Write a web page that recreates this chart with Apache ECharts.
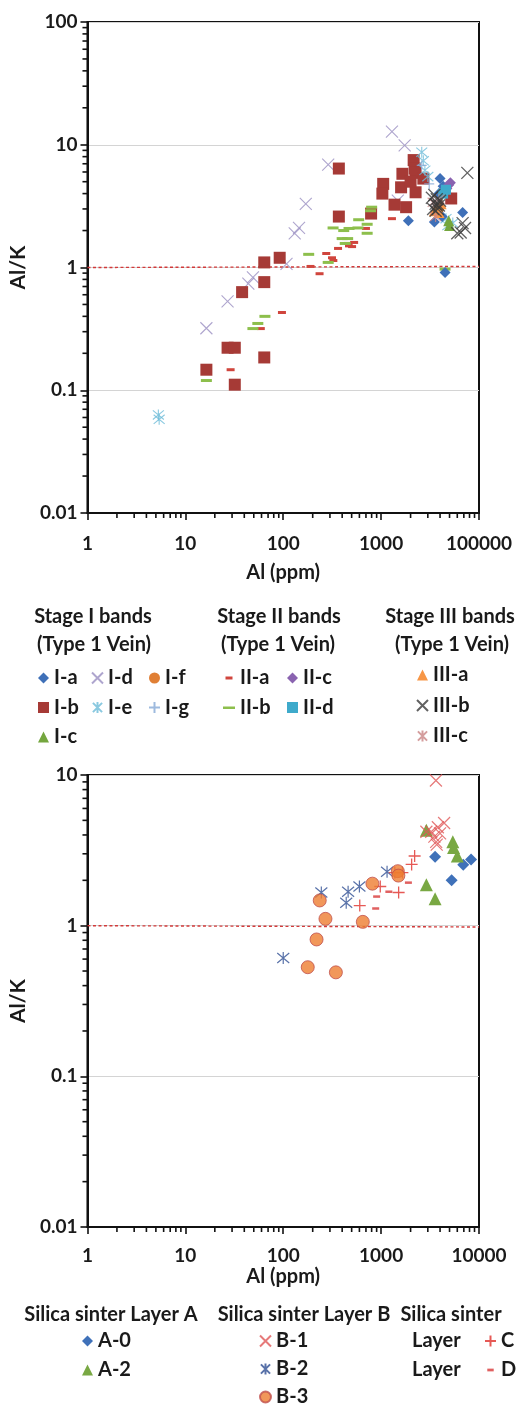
<!DOCTYPE html>
<html>
<head>
<meta charset="utf-8">
<script src="https://cdn.jsdelivr.net/npm/echarts@6/dist/echarts.min.js"></script>
<style>
  html, body { margin: 0; padding: 0; background: #fff; }
  #chart { width: 531px; height: 1417px; }
</style>
</head>
<body>
<div id="chart"></div>
<script>
// ---- Type 1 vein bands: [Al (ppm), Al/K] ----
const Ia   = [[1900,2.4],[3500,2.35],[4000,5.3],[4300,4.6],[3900,4.0],[4200,2.6],[6800,2.8],[4500,0.91]];
const Ib   = [[16.4,0.147],[27,0.222],[32,0.222],[32,0.111],[64,0.185],[38,0.63],[64,0.76],[64,1.1],[92,1.2],
              [370,6.4],[370,2.6],[790,2.75],[1050,4.8],[1030,4.0],[1370,3.25],[1800,3.1],[1600,4.5],[1650,5.8],
              [2150,7.5],[2200,6.4],[2250,5.9],[2250,4.1],[2700,5.3],[2000,5.0],[5200,3.65]];
const Ic   = [[4900,2.4],[5000,2.2]];
const Id   = [[16.4,0.32],[27,0.53],[44,0.74],[49,0.83],[108,1.07],[131,1.9],[145,2.1],[170,3.3],[288,6.9],
              [1290,12.8],[1740,9.9],[1480,3.5]];
const Ie   = [[5.3,0.063],[5.4,0.058],[2600,8.7],[2700,7.4],[2800,6.2],[3000,5.5],[5400,2.3],[4800,2.2],[4600,2.5]];
const If_  = [[3900,3.0]];
const Ig   = [[2600,6.8],[3100,4.8]];
const IIa  = [[29,0.147],[59,0.318],[97,0.43],[190,1.02],[235,0.89],[275,1.3],[315,1.2],[325,1.14],[363,1.43],
              [460,1.57],[470,1.5],[505,1.48],[530,1.6],[700,2.08],[1290,2.5]];
const IIb  = [[16.4,0.12],[49,0.318],[55,0.35],[65,0.4],[182,1.28],[288,1.1],[323,2.1],[400,1.72],[415,2.0],
              [430,1.57],[470,2.08],[455,1.72],[590,2.45],[580,2.1],[720,2.25],[720,1.9],[800,3.1],[780,2.9],[4500,0.97]];
const IIc  = [[4900,4.7],[4700,4.4],[5100,4.9]];
const IId  = [[4600,4.3],[4300,4.0]];
const IIIa = [[3700,3.1],[3500,2.9],[3900,2.8],[4100,3.3]];
const IIIb = [[3300,3.7],[3600,3.3],[3800,3.0],[4000,3.5],[3500,3.9],[3700,3.2],[3400,3.0],[3700,3.6],
              [3900,3.2],[3600,2.9],[7600,5.9],[6500,1.93],[7200,2.1],[6000,1.9],[6800,2.3]];
const IIIc = [[3400,3.4],[3900,3.6],[3600,2.6]];

// ---- Silica sinter layers: [Al (ppm), Al/K] ----
const A0 = [[3560,2.87],[5250,2.0],[6900,2.54],[8300,2.75]];
const A2 = [[2900,4.3],[5400,3.6],[5500,3.3],[6000,2.9],[2900,1.87],[3560,1.51]];
const B1 = [[3630,9.2],[4400,4.8],[3800,4.5],[3250,4.2],[2900,4.2],[3500,3.9],[3650,3.6],[4000,4.1],[3700,3.45]];
const B2 = [[100,0.61],[245,1.66],[460,1.68],[440,1.42],[600,1.82],[1150,2.28]];
const B3 = [[236,1.47],[270,1.11],[219,0.81],[178,0.53],[345,0.49],[650,1.06],[815,1.9],[1480,2.3],[1500,2.15]];
const LC = [[605,1.36],[980,1.82],[1510,1.66],[1380,2.25],[1650,2.25],[2050,2.55],[2200,2.9]];
const LD = [[880,1.3],[900,1.56],[1200,1.68],[1900,1.93]];

// Al/K = 1 reference lines
const refTop    = [[1,1],[10000,1.02]];
const refBottom = [[1,1],[10000,0.98]];

// Tick labels
const topXLabels    = ['1','10','100','1000','100000'];
const bottomXLabels = ['1','10','100','1000','10000'];
const topYLabels    = ['0.01','0.1','1','10','100'];
const bottomYLabels = ['0.01','0.1','1','10'];

// Minor tick multipliers inside each decade of a log axis
const minorSteps = [2, 3, 4, 5, 6, 7, 8, 9];

const FONT = 'Lato, "Open Sans", sans-serif';
const INK = '#1a1a1a';

const X_PATH    = 'path://M0,0L10,10M10,0L0,10';
const STAR_PATH = 'path://M0,0L10,10M10,0L0,10M5,-1L5,11';
const PLUS_PATH = 'path://M5,0L5,10M0,5L10,5';

function filled(name, data, symbol, size, color, grid, extra) {
  return Object.assign({
    name, type: 'scatter', data, symbol, symbolSize: size,
    xAxisIndex: grid, yAxisIndex: grid,
    itemStyle: { color, opacity: 1 },
    emphasis: { disabled: true }
  }, extra || {});
}
function stroked(name, data, symbol, size, color, grid, width) {
  return {
    name, type: 'scatter', data, symbol, symbolSize: size,
    xAxisIndex: grid, yAxisIndex: grid,
    itemStyle: { color: 'rgba(0,0,0,0)', borderColor: color, borderWidth: width || 1.2 },
    emphasis: { disabled: true }
  };
}
function refLine(data, grid) {
  return {
    name: 'ref' + grid, type: 'line', data, symbol: 'none', silent: true,
    xAxisIndex: grid, yAxisIndex: grid,
    lineStyle: { color: '#d23a3a', width: 1.4, type: [3, 2.5] }, z: 1
  };
}

// Values of the minor ticks between lo and hi (decade bounds)
function minorValues(lo, hi) {
  const out = [];
  for (let d = lo; d < hi; d *= 10) minorSteps.forEach(m => out.push(m * d));
  return out;
}
// Short outside ticks at 2..9 x 10^k, placed through the axis scale
function minorTicks(grid, dim, lo, hi, xMin, yMin) {
  const data = minorValues(lo, hi).map(v => dim === 'x' ? [v, yMin] : [xMin, v]);
  return {
    name: 'minor-' + dim + grid, type: 'custom', silent: true, clip: false, z: 10,
    xAxisIndex: grid, yAxisIndex: grid, data,
    renderItem: (params, api) => {
      const p = api.coord([api.value(0), api.value(1)]);
      const shape = dim === 'x'
        ? { x1: p[0], y1: p[1], x2: p[0], y2: p[1] + 5 }
        : { x1: p[0], y1: p[1], x2: p[0] - 5, y2: p[1] };
      return { type: 'line', shape, style: { stroke: '#111', lineWidth: 1.6 } };
    }
  };
}

function logXAxis(grid, labels) {
  return {
    type: 'log', logBase: 10, min: 1, max: 10000, gridIndex: grid,
    axisLine: { lineStyle: { color: '#111', width: 2 } },
    axisTick: { show: true, inside: false, length: 7, lineStyle: { color: '#111', width: 1.6 } },
    splitLine: { show: false },
    axisLabel: {
      margin: grid === 0 ? 21 : 19, fontFamily: FONT, fontWeight: 'bold', fontSize: 19, color: INK,
      formatter: v => labels[Math.round(Math.log10(v))]
    },
    name: 'Al (ppm)', nameLocation: 'middle', nameGap: grid === 0 ? 50 : 40,
    nameTextStyle: { fontFamily: FONT, fontWeight: 'bold', fontSize: 20, color: INK }
  };
}
function logYAxis(grid, min, max, labels) {
  return {
    type: 'log', logBase: 10, min, max, gridIndex: grid,
    axisLine: { lineStyle: { color: '#111', width: 2 } },
    axisTick: { show: true, inside: false, length: 7, lineStyle: { color: '#111', width: 1.6 } },
    splitLine: { show: true, lineStyle: { color: '#d4d4d4', width: 1 } },
    axisLabel: {
      margin: 10, fontFamily: FONT, fontWeight: 'bold', fontSize: 19, color: INK,
      formatter: v => labels[Math.round(Math.log10(v) - Math.log10(min))]
    },
    name: 'Al/K', nameLocation: 'middle', nameGap: grid === 0 ? 44 : 25,
    nameTextStyle: { fontFamily: FONT, fontWeight: 'bold', fontSize: 21, color: INK }
  };
}

const legendText = { fontFamily: FONT, fontWeight: 'bold', fontSize: 20, color: INK, lineHeight: 22 };
function legendCol(names, left, top, gap, w, h) {
  return {
    data: names, left, top, orient: 'vertical', itemGap: gap,
    itemWidth: w || 11, itemHeight: h || 11, textStyle: legendText,
    selectedMode: false, padding: 0
  };
}
function heading(text, x, y, align) {
  return {
    type: 'text', x, y, silent: true,
    style: { text, x: 0, y: 0, fontFamily: FONT, fontWeight: 'bold', fontSize: 20, fill: INK,
             textAlign: align || 'center', textVerticalAlign: 'middle' }
  };
}

const DASH_SHORT = 'path://M0,0L0,0M12,10L12,10M2.5,3.5L9.5,3.5L9.5,6.5L2.5,6.5Z';
const DASH_LONG  = 'path://M0,0L0,0M12,10L12,10M0,4L12,4L12,6.5L0,6.5Z';

const option = {
  animation: false,
  backgroundColor: '#fff',
  grid: [
    { left: 74, top: 22, width: 405, height: 491, show: true, borderColor: '#111', borderWidth: 2, backgroundColor: 'transparent' },
    { left: 78, top: 775, width: 401, height: 452, show: true, borderColor: '#111', borderWidth: 2, backgroundColor: 'transparent' }
  ],
  xAxis: [logXAxis(0, topXLabels), logXAxis(1, bottomXLabels)],
  yAxis: [logYAxis(0, 0.01, 100, topYLabels), logYAxis(1, 0.01, 10, bottomYLabels)],
  legend: [
    legendCol(['I-a', 'I-b', 'I-c'], 38, 667, 7.5),
    legendCol(['I-d', 'I-e'], 91, 667, 7.5),
    legendCol(['I-f', 'I-g'], 148, 667, 7.5),
    legendCol([{ name: 'II-a', icon: DASH_SHORT }, { name: 'II-b', icon: DASH_LONG }], 223, 667, 7.5, 12, 10),
    legendCol(['II-c', 'II-d'], 287, 667, 7.5),
    legendCol(['III-a', 'III-b', 'III-c'], 416, 664, 8.5),
    legendCol(['A-0', 'A-2'], 82, 1330, 7),
    legendCol(['B-1', 'B-2', 'B-3'], 259, 1330, 6),
    legendCol(['C', { name: 'D', icon: DASH_SHORT }], 484, 1330, 7)
  ],
  graphic: [
    heading('Stage I bands', 93, 617),
    heading('(Type 1 Vein)', 94, 645),
    heading('Stage II bands', 279, 617),
    heading('(Type 1 Vein)', 278, 645),
    heading('Stage III bands', 450, 617),
    heading('(Type 1 Vein)', 452, 645),
    heading('Silica sinter Layer A', 111, 1315),
    heading('Silica sinter Layer B', 304, 1315),
    heading('Silica sinter', 451, 1315),
    heading('Layer', 412, 1341, 'left'),
    heading('Layer', 412, 1370, 'left')
  ],
  series: [
    refLine(refTop, 0),
    refLine(refBottom, 1),
    minorTicks(0, 'x', 1, 10000, 1, 0.01),
    minorTicks(0, 'y', 0.01, 100, 1, 0.01),
    minorTicks(1, 'x', 1, 10000, 1, 0.01),
    minorTicks(1, 'y', 0.01, 10, 1, 0.01),
    // Type 1 vein
    stroked('I-d', Id, X_PATH, 12, '#9a8fc2', 0, 1.1),
    filled('I-b', Ib, 'rect', 12, '#a63a36', 0),
    filled('II-a', IIa, 'rect', [8, 3], '#d0453d', 0),
    filled('II-b', IIb, 'rect', [11, 3], '#8dbf4c', 0),
    stroked('I-e', Ie, STAR_PATH, 11, '#6dbcd8', 0, 1.1),
    stroked('I-g', Ig, PLUS_PATH, 10, '#86a9d6', 0, 1.2),
    filled('I-a', Ia, 'diamond', 11, '#3f70b8', 0),
    filled('I-c', Ic, 'triangle', 11, '#74a63e', 0),
    filled('I-f', If_, 'circle', 10, '#e07f35', 0),
    filled('II-c', IIc, 'diamond', 11, '#8a63b0', 0),
    filled('II-d', IId, 'rect', 10, '#3eaacb', 0),
    filled('III-a', IIIa, 'triangle', 11, '#f79646', 0),
    stroked('III-c', IIIc, STAR_PATH, 11, '#c98585', 0, 1.2),
    stroked('III-b', IIIb, X_PATH, 12, '#3a3a3a', 0, 1.3),
    // Silica sinter
    filled('A-0', A0, 'diamond', 12, '#3f71b9', 1),
    filled('A-2', A2, 'triangle', 13, '#79a843', 1),
    stroked('B-1', B1, X_PATH, 12, '#e05858', 1, 1.2),
    stroked('B-2', B2, STAR_PATH, 12, '#2f4f93', 1, 1.2),
    stroked('C', LC, PLUS_PATH, 12, '#e0302a', 1, 1.3),
    filled('D', LD, 'rect', [7, 2.5], '#e06060', 1),
    filled('B-3', B3, 'circle', 13, '#ed7d31', 1, { itemStyle: { color: '#ed7d31', borderColor: '#c0504d', borderWidth: 1 } })
  ]
};

const chart = echarts.init(document.getElementById('chart'), null, { renderer: 'canvas' });
chart.setOption(option);
</script>
</body>
</html>
